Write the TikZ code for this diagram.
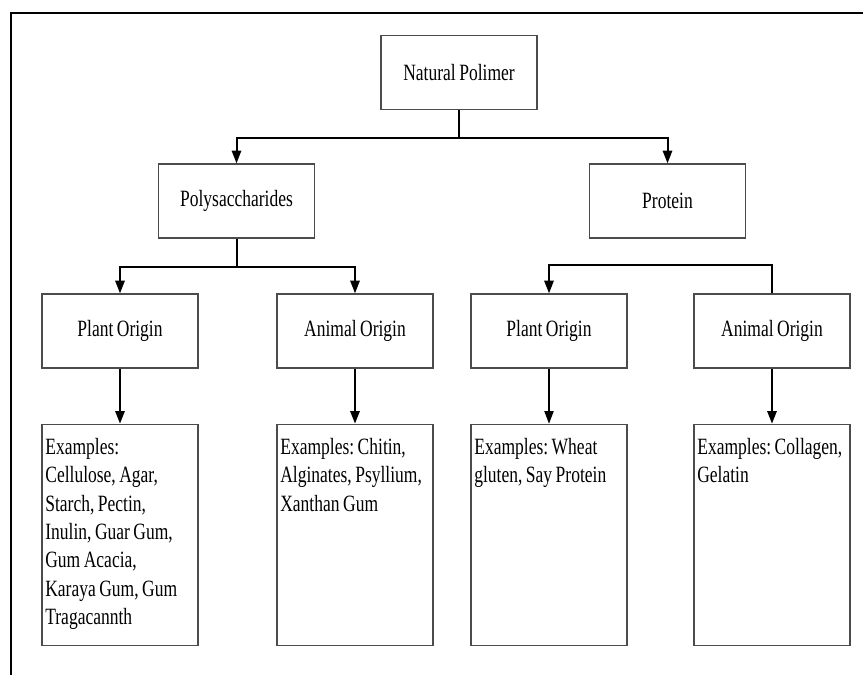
\documentclass[tikz,border=0pt]{standalone}
\usepackage{fontspec}
\setmainfont{Liberation Serif}[FakeStretch=0.75, WordSpace=0.8]
\usetikzlibrary{arrows.meta, positioning}
\frenchspacing

\begin{document}
\begin{tikzpicture}[
  x=0.75pt, y=-0.75pt,
  font=\fontsize{17.5pt}{21.25pt}\selectfont,
  nbox/.style={draw=black!70, line width=1pt, minimum width=117pt, minimum height=55.5pt, align=center, inner sep=2pt},
  ebox/.style={draw=black!70, line width=1pt, text width=112pt, inner xsep=2.5pt, inner ysep=10pt, text height=12.5pt, text depth=133.25pt, align=flush left},
  carrow/.style={-{Triangle[length=9.5pt, width=7pt]}, line width=1.5pt},
  cline/.style={line width=1.5pt},
  tarrow/.style={-{Triangle[length=9.5pt, width=7pt]}, line width=0.8pt}
]
\useasboundingbox (0,0) rectangle (863,675);
\draw[line width=2.2pt] (863,13) -- (11,13) -- (11,675);

\node[nbox] (root) at (459,72.5) {Natural Polimer};
\node[nbox] (poly) at (236.5,201) {Polysaccharides};
\node[nbox] (prot) at (667.5,201) {Protein};
\node[nbox] (pplant) at (120,331) {Plant Origin};
\node[nbox] (panimal) at (355,331) {Animal Origin};
\node[nbox] (qplant) at (549,331) {Plant Origin};
\node[nbox] (qanimal) at (772,331) {Animal Origin};

\node[ebox, below=41.25pt of pplant] (pplantex) {Examples:\\Cellulose, Agar,\\Starch, Pectin,\\Inulin, Guar Gum,\\Gum Acacia,\\Karaya Gum, Gum\\Tragacannth};
\node[ebox, below=41.25pt of panimal] (panimalex) {Examples: Chitin,\\Alginates, Psyllium,\\Xanthan Gum};
\node[ebox, below=41.25pt of qplant] (qplantex) {Examples: Wheat\\gluten, Say Protein};
\node[ebox, below=41.25pt of qanimal] (qanimalex) {\mbox{Examples: Collagen,}\\Gelatin};

\coordinate (rootjoin) at ([yshift=-21pt]root.south);
\draw[cline] (root.south) -- (rootjoin);
\draw[carrow] (rootjoin) -| (poly);
\draw[carrow] (rootjoin) -| (prot);
\coordinate (polyjoin) at ([yshift=-21pt]poly.south);
\draw[cline] (poly.south) -- (polyjoin);
\draw[carrow] (polyjoin) -| (pplant);
\draw[carrow] (polyjoin) -| (panimal);
\draw[carrow] (qanimal.north) -- ++(0,21pt) -| (qplant);
\draw[carrow] (pplant) -- (pplantex);
\draw[carrow] (panimal) -- (panimalex);
\draw[tarrow] (qplant) -- (qplantex);
\draw[carrow] (qanimal) -- (qanimalex);
\end{tikzpicture}
\end{document}
